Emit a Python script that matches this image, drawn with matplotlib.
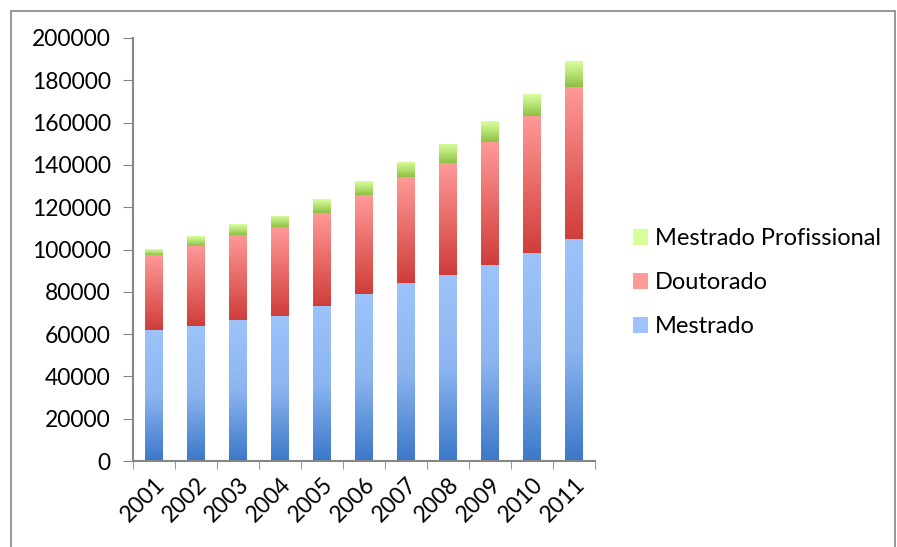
import matplotlib
matplotlib.use("Agg")
import matplotlib.pyplot as plt
import numpy as np
from matplotlib.colors import LinearSegmentedColormap
from matplotlib.patches import Rectangle

years = ["2001", "2002", "2003", "2004", "2005", "2006", "2007", "2008", "2009", "2010", "2011"]
mestrado = [62000, 63800, 66700, 68700, 73300, 79000, 84000, 87900, 92800, 98300, 105000]
doutorado = [35400, 38000, 40300, 41800, 44100, 46800, 50100, 52800, 58200, 64800, 72000]
profissional = [2800, 4700, 5000, 5500, 6300, 6600, 7300, 9200, 9800, 10400, 12100]

series = [
    ("Mestrado", mestrado, ("#3b78c9", "#8cb5f0", "#9dc3fa")),
    ("Doutorado", doutorado, ("#cf3d3a", "#e86b68", "#ff9a98")),
    ("Mestrado Profissional", profissional, ("#8cc043", "#b6e274", "#d9ff9c")),
]

plt.rcParams["font.family"] = ["Lato", "DejaVu Sans"]

fig = plt.figure(figsize=(8.97, 5.47), dpi=100)
ax = fig.add_axes([133 / 897, 86 / 547, 462 / 897, 423 / 547])

x = np.arange(len(years))
bottom = np.zeros(len(years))
grad = np.linspace(0, 1, 256).reshape(-1, 1)
handles = []
for name, vals, cols in series:
    cmap = LinearSegmentedColormap.from_list(name, cols)
    bars = ax.bar(x, vals, width=0.41, bottom=bottom, color=cols[2], edgecolor="none", label=name)
    for b in bars:
        bx, by = b.get_x(), b.get_y()
        im = ax.imshow(grad, cmap=cmap, aspect="auto", origin="lower",
                       extent=(bx, bx + b.get_width(), by, by + b.get_height()), zorder=2)
        im.set_clip_path(b)
    handles.append(bars)
    bottom += np.array(vals)

ax.set_xlim(-0.5, len(years) - 0.5)
ax.set_ylim(0, 200000)
ax.set_yticks(np.arange(0, 200001, 20000))
ax.set_xticks(x)
ax.set_xticklabels(years, rotation=45, ha="right", rotation_mode="anchor")
ax.set_xticks(np.arange(-0.5, len(years), 1), minor=True)
ax.tick_params(axis="x", which="major", length=0, labelsize=16.5, pad=9)
ax.tick_params(axis="x", which="minor", length=6, color="#868686", direction="out")
ax.tick_params(axis="y", length=7, color="#868686", labelsize=16.5, pad=9)
for s in ["top", "right"]:
    ax.spines[s].set_visible(False)
for s in ["left", "bottom"]:
    ax.spines[s].set_color("#868686")
    ax.spines[s].set_linewidth(1.5)

leg = fig.legend(handles[::-1], [s[0] for s in series][::-1], loc="upper left",
                 bbox_to_anchor=(624 / 897, 1 - 219 / 547), frameon=False, fontsize=17,
                 handlelength=0.62, handleheight=0.62, handletextpad=0.3, labelspacing=0.97,
                 borderaxespad=0)

fig.patches.append(Rectangle((11 / 897, -0.05), 884 / 897, 1.05 - 11 / 547, transform=fig.transFigure,
                             fill=False, edgecolor="#868686", linewidth=1.2))

fig.savefig("out.png", dpi=100)
